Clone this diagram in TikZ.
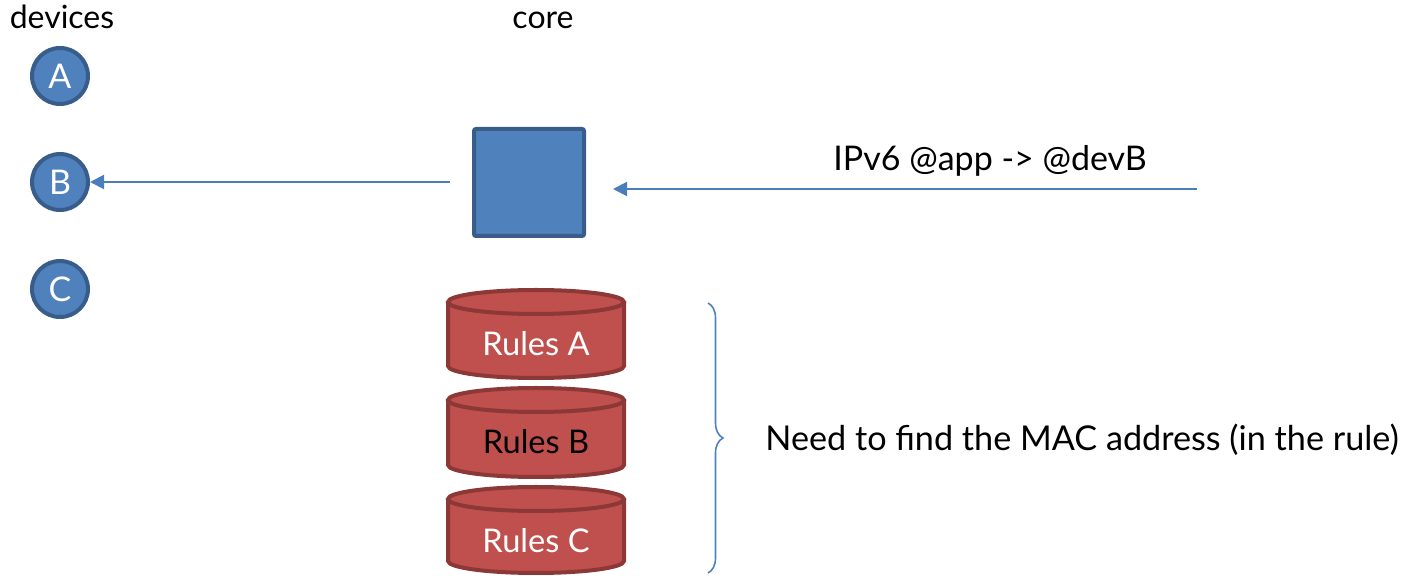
\documentclass[tikz,border=0pt]{standalone}
\usepackage{fontspec}
\setmainfont{Lato}
\usetikzlibrary{arrows.meta,decorations.pathreplacing}
\definecolor{bfill}{HTML}{4F81BD}
\definecolor{bdraw}{HTML}{385D8A}
\definecolor{rfill}{HTML}{C0504D}
\definecolor{rdraw}{HTML}{8C3836}
\definecolor{arr}{HTML}{4A7EBB}
\tikzset{
  dev/.style={circle, fill=bfill, draw=bdraw, line width=2pt, minimum size=28pt, inner sep=0pt, text=white, font=\fontsize{17}{19}\selectfont},
  corebox/.style={rectangle, fill=bfill, draw=bdraw, line width=2pt, rounded corners=1pt, minimum width=55pt, minimum height=53.5pt},
  cyl/.style={fill=rfill, draw=rdraw, line width=2pt},
  lbl/.style={font=\fontsize{16}{18}\selectfont, inner sep=0pt},
  rl/.style={font=\fontsize{16.3}{18}\selectfont, inner sep=0pt},
  flow/.style={draw=arr, line width=1pt, -{Triangle[length=7pt,width=7pt]}},
}
\begin{document}
\begin{tikzpicture}[x=0.5pt,y=-0.5pt]
\useasboundingbox (0,0) rectangle (1404,576);
% headers
\node[lbl, anchor=base] (hdev) at (62,29) {devices};
\node[lbl, anchor=base] (hcore) at (543,29) {core};
% devices
\node[dev] (A) at (60,76) {A};
\node[dev] (B) at (60,182) {B};
\node[dev] (C) at (60,289) {C};
% core
\node[corebox] (core) at (529,182.5) {};
% arrows
\coordinate (lstart) at (450,182);
\draw[flow] (lstart) -- (B.east);
\coordinate (rstart) at (1197,189);
\coordinate (rend) at (613,189);
\draw[flow] (rstart) -- (rend);
\node[lbl, anchor=base west, font=\fontsize{17}{19}\selectfont] (ipv6) at (833,171) {IPv6 @app -> @devB};
% cylinders
\foreach \t/\b in {290/378, 388/477, 487/573}{
  \pgfmathsetmacro{\tc}{\t+12}
  \pgfmathsetmacro{\bc}{\b-12}
  \fill[rfill] (448,\tc) -- (448,\bc) arc[start angle=180, end angle=0, x radius=88, y radius=12] -- (624,\tc) arc[start angle=0, end angle=-180, x radius=88, y radius=12] -- cycle;
  \draw[cyl] (448,\tc) -- (448,\bc) arc[start angle=180, end angle=0, x radius=88, y radius=12] -- (624,\tc);
  \draw[cyl] (536,\tc) ellipse[x radius=88, y radius=12];
}
\node[rl, text=white] (ra) at (536,344) {Rules A};
\node[rl, text=black] (rb) at (536,442) {Rules B};
\node[rl, text=white] (rc) at (536,541) {Rules C};
% brace
\coordinate (btop) at (708,303);
\coordinate (bbot) at (708,573);
\draw[draw=bfill, line width=0.8pt, decorate, decoration={brace, amplitude=7.5pt}] (btop) -- (bbot);
\node[lbl, anchor=base west, font=\fontsize{17.1}{19}\selectfont] (need) at (765,451) {Need to find the MAC address (in the rule)};
\end{tikzpicture}
\end{document}
